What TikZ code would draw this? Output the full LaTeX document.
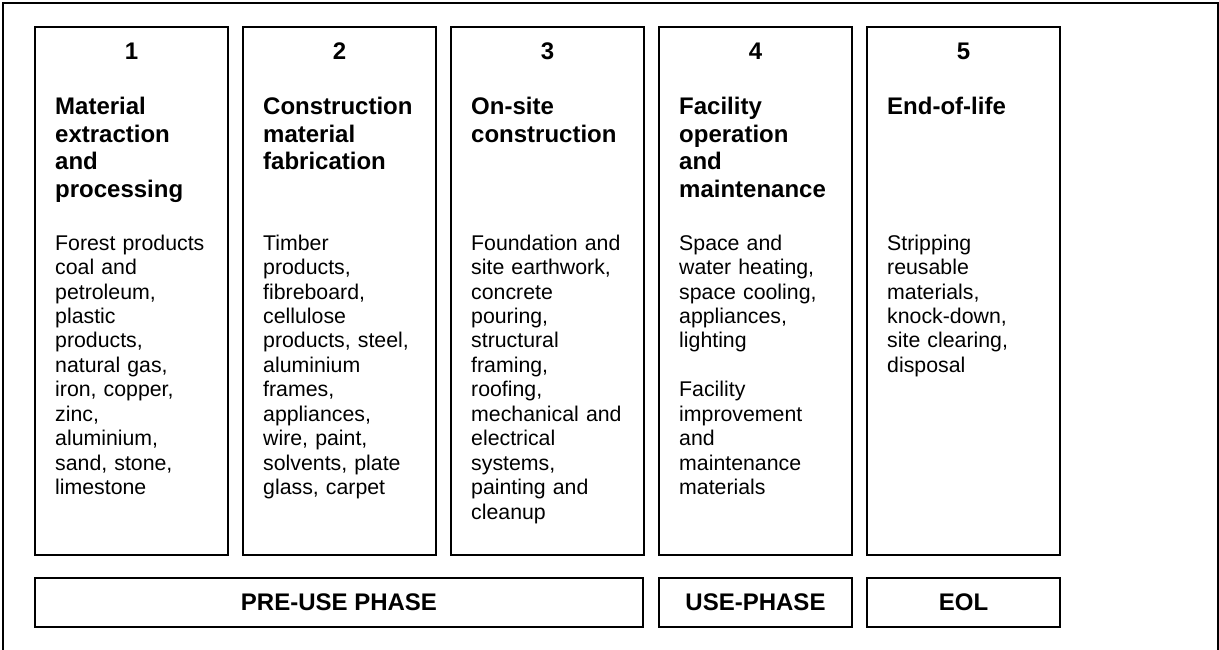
\documentclass[tikz,border=0pt]{standalone}
\usepackage{fontspec}
\setmainfont{Liberation Sans}
\begin{document}
\begin{tikzpicture}[x=1pt,y=-1pt,
  stage/.style={draw=black, line width=2pt, minimum width=193pt, minimum height=528pt, inner sep=0pt},
  phasebox/.style={draw=black, line width=2pt, minimum height=49pt, inner sep=0pt, font=\fontsize{24}{27.5}\selectfont\bfseries},
  num/.style={anchor=base, inner sep=0pt, font=\fontsize{24}{27.5}\selectfont\bfseries},
  ttl/.style={anchor=base west, inner sep=0pt, text width=170pt, align=left, font=\fontsize{24}{27.5}\selectfont\bfseries},
  bdy/.style={anchor=base west, inner sep=0pt, text width=170pt, align=left, font=\fontsize{21.3}{24.5}\selectfont},
]
\useasboundingbox (0,0) rectangle (1219,650);
\draw[line width=1.5pt] (3,650) -- (3,3) -- (1218,3) -- (1218,650);

% stage boxes
\node[stage] (s1) at (131.5,291) {};
\node[stage] (s2) at (339.5,291) {};
\node[stage] (s3) at (547.5,291) {};
\node[stage] (s4) at (755.5,291) {};
\node[stage] (s5) at (963.5,291) {};

% numbers
\node[num] (n1) at (131.5,60) {1};
\node[num] (n2) at (339.5,60) {2};
\node[num] (n3) at (547.5,60) {3};
\node[num] (n4) at (755.5,60) {4};
\node[num] (n5) at (963.5,60) {5};

% titles
\node[ttl] (t1) at (55,115) {Material\\extraction\\and\\processing};
\node[ttl] (t2) at (263,115) {Construction\\material\\fabrication};
\node[ttl] (t3) at (471,115) {On-site\\construction};
\node[ttl] (t4) at (679,115) {Facility\\operation\\and\\maintenance};
\node[ttl] (t5) at (887,115) {End-of-life};

% bodies
\node[bdy] (b1) at (55,250) {Forest products\\coal and\\petroleum,\\plastic\\products,\\natural gas,\\iron, copper,\\zinc,\\aluminium,\\sand, stone,\\limestone};
\node[bdy] (b2) at (263,250) {Timber\\products,\\fibreboard,\\cellulose\\products, steel,\\aluminium\\frames,\\appliances,\\wire, paint,\\solvents, plate\\glass, carpet};
\node[bdy] (b3) at (471,250) {Foundation and\\site earthwork,\\concrete\\pouring,\\structural\\framing,\\roofing,\\mechanical and\\electrical\\systems,\\painting and\\cleanup};
\node[bdy] (b4) at (679,250) {Space and\\water heating,\\space cooling,\\appliances,\\lighting\\[24.5pt]Facility\\improvement\\and\\maintenance\\materials};
\node[bdy] (b5) at (887,250) {Stripping\\reusable\\materials,\\knock-down,\\site clearing,\\disposal};

% phase boxes
\node[phasebox, minimum width=608pt] (p1) at (339,602.5) {PRE-USE PHASE};
\node[phasebox, minimum width=193pt] (p2) at (755.5,602.5) {USE-PHASE};
\node[phasebox, minimum width=193pt] (p3) at (963.5,602.5) {EOL};
\end{tikzpicture}
\end{document}
